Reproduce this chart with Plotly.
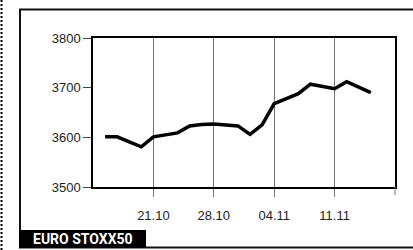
import plotly.graph_objects as go

# Trading days (2019) and EURO STOXX 50 closing values
days = ["15.10", "16.10", "17.10", "18.10",
        "21.10", "22.10", "23.10", "24.10", "25.10",
        "28.10", "29.10", "30.10", "31.10", "01.11",
        "04.11", "05.11", "06.11", "07.11", "08.11",
        "11.11", "12.11", "13.11", "14.11"]
values = [3601, 3601, 3591, 3581,
          3601, 3605, 3609, 3623, 3626,
          3627, 3625, 3623, 3606, 3625,
          3668, 3678, 3688, 3707, 3702,
          3698, 3712, 3701, 3690]
tick_labels = ["21.10", "28.10", "04.11", "11.11"]
y_ticks = [3500, 3600, 3700, 3800]
title = "EURO STOXX50"

x = list(range(len(days)))
tickvals = [days.index(t) for t in tick_labels]
ticktext = tick_labels

W, H = 413, 250
L, R, T, B = 93, 395, 38, 187


def px(xp):
    return (xp - L) / (R - L)


def py(yp):
    return (B - yp) / (B - T)


def pline(x0, y0, x1, y1, **line):
    return dict(type="line", xref="paper", yref="paper",
                x0=px(x0), x1=px(x1), y0=py(y0), y1=py(y1), line=line)


fig = go.Figure()
fig.add_trace(go.Scatter(x=x, y=values, mode="lines",
                         line=dict(color="black", width=3.5),
                         hoverinfo="skip"))

shapes = [
    # dotted left margin line
    pline(1.5, 0, 1.5, 250, color="black", width=2, dash="2px,2px"),
    # outer frame: left, top, bottom
    pline(20, 9.5, 20, 247.5, color="#111", width=2),
    pline(19, 9.5, 413, 9.5, color="#111", width=2),
    pline(19, 247.5, 413, 247.5, color="#111", width=2),
    # tick below the right edge of the plot
    pline(R, B, R, B + 8, color="#777", width=1),
    # label box
    dict(type="rect", xref="paper", yref="paper", x0=px(19), x1=px(146),
         y0=py(230), y1=py(248), fillcolor="black", line=dict(width=0)),
]

fig.update_layout(
    width=W, height=H,
    margin=dict(l=L, r=W - R, t=T, b=H - B),
    paper_bgcolor="white", plot_bgcolor="white",
    showlegend=False,
    shapes=shapes,
    annotations=[dict(text="<b>" + title + "</b>", xref="paper", yref="paper",
                      x=px(82.5), y=py(239), xanchor="center", yanchor="middle",
                      showarrow=False,
                      font=dict(family="Roboto", size=14, color="white"))],
    font=dict(family="Liberation Sans, Arial", size=13, color="#222"),
)
fig.update_xaxes(range=[-1, 24], tickmode="array", tickvals=tickvals, ticktext=ticktext,
                 showgrid=True, gridcolor="#777", gridwidth=1,
                 ticks="outside", ticklen=8, tickcolor="#777", tickwidth=1,
                 showline=True, linecolor="black", linewidth=1.5, mirror=True,
                 zeroline=False, ticklabelstandoff=8, fixedrange=True)
fig.update_yaxes(range=[3500, 3800], tickmode="array", tickvals=y_ticks,
                 showgrid=False, ticks="outside", ticklen=8, tickcolor="#444", tickwidth=1,
                 showline=True, linecolor="black", linewidth=1.5, mirror=True,
                 zeroline=False, fixedrange=True)

fig.write_html("out.html", config={"displayModeBar": False},
               post_script=("document.body.style.margin='0';"
                            "document.body.style.overflow='hidden';"
                            "document.documentElement.style.overflow='hidden';"))
